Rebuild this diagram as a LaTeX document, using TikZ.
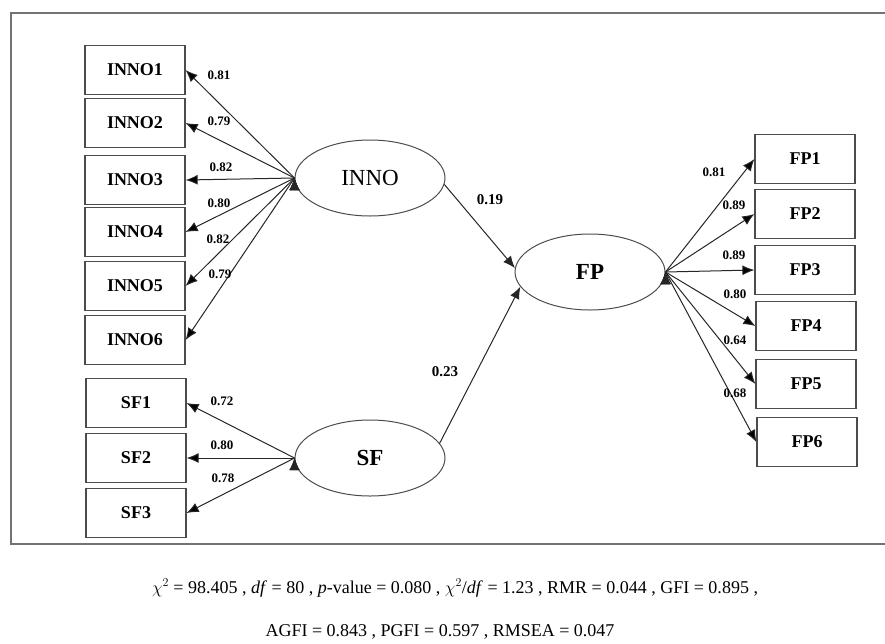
\documentclass[tikz,border=0pt]{standalone}
\usepackage{fontspec}
\setmainfont{Liberation Serif}
\usetikzlibrary{shapes.geometric,arrows.meta}

\begin{document}
\begin{tikzpicture}[x=1pt,y=-1pt,
   ind/.style={draw=black!70,line width=1.2pt,minimum width=100pt,minimum height=49pt,font=\fontsize{18}{18}\selectfont\bfseries},
   lat/.style={ellipse,draw=black!70,line width=1pt,minimum width=150pt,minimum height=76pt,font=\fontsize{23}{23}\selectfont},
   ld/.style={font=\fontsize{13}{13}\selectfont\bfseries},
   arr/.style={-{Latex[length=12pt,width=10pt]},line width=1pt,draw=black!85}]
   \useasboundingbox (0,0) rectangle (885,643);
   \draw[black!55,line width=2pt] (11,13) rectangle (890,544);

   \node[ind] (i1) at (135,70) {INNO1};
   \node[ind] (i2) at (135,123) {INNO2};
   \node[ind] (i3) at (135,180) {INNO3};
   \node[ind] (i4) at (135,232) {INNO4};
   \node[ind] (i5) at (135,286) {INNO5};
   \node[ind] (i6) at (135,340) {INNO6};
   \node[ind] (s1) at (136,403) {SF1};
   \node[ind] (s2) at (136,458) {SF2};
   \node[ind] (s3) at (136,513) {SF3};
   \node[ind] (f1) at (805,159) {FP1};
   \node[ind] (f2) at (805,214) {FP2};
   \node[ind] (f3) at (805,270) {FP3};
   \node[ind] (f4) at (806,326) {FP4};
   \node[ind] (f5) at (806,384) {FP5};
   \node[ind] (f6) at (807,442) {FP6};

   \node[lat] (inno) at (370,178) {INNO};
   \node[lat,font=\fontsize{23}{23}\selectfont\bfseries] (fp) at (590,272) {FP};
   \node[lat,font=\fontsize{23}{23}\selectfont\bfseries] (sf) at (370,458) {SF};

   \path[arr] (inno.west) edge (i1.east);
   \path[arr] (inno.west) edge (i2.east);
   \path[arr] (inno.west) edge (i3.east);
   \path[arr] (inno.west) edge (i4.east);
   \path[arr] (inno.west) edge (i5.east);
   \path[arr] (inno.west) edge (i6.east);
   \path[arr] (sf.west) edge (s1.east);
   \path[arr] (sf.west) edge (s2.east);
   \path[arr] (sf.west) edge (s3.east);
   \path[arr] (fp.east) edge (f1.west);
   \path[arr] (fp.east) edge (f2.west);
   \path[arr] (fp.east) edge (f3.west);
   \path[arr] (fp.east) edge (f4.west);
   \path[arr] (fp.east) edge (f5.west);
   \path[arr] (fp.east) edge (f6.west);
   \draw[arr] (inno.-5) -- (fp.177);
   \draw[arr] (sf.12) -- (fp.192);

   \node[ld] (li1) at (219,75) {0.81};
   \node[ld] (li2) at (219,121) {0.79};
   \node[ld] (li3) at (221,167) {0.82};
   \node[ld] (li4) at (219,203) {0.80};
   \node[ld] (li5) at (218,239) {0.82};
   \node[ld] (li6) at (220,274) {0.79};
   \node[ld] (ls1) at (222,401) {0.72};
   \node[ld] (ls2) at (222,445) {0.80};
   \node[ld] (ls3) at (223,478) {0.78};
   \node[ld] (lf1) at (714,172) {0.81};
   \node[ld] (lf2) at (734,205) {0.89};
   \node[ld] (lf3) at (734,255) {0.89};
   \node[ld] (lf4) at (735,294) {0.80};
   \node[ld] (lf5) at (735,340) {0.64};
   \node[ld] (lf6) at (735,393) {0.68};
   \node[ld,font=\fontsize{15}{15}\selectfont\bfseries] (lif) at (490,200) {0.19};
   \node[ld,font=\fontsize{15}{15}\selectfont\bfseries] (lsf) at (445,372) {0.23};

   \node[font=\fontsize{18}{18}\selectfont] (fit1) at (455,588) {$\chi^2$ = 98.405 , \textit{df} = 80 , \textit{p}-value = 0.080 , $\chi^2$/\textit{df} = 1.23 , RMR = 0.044 , GFI = 0.895 ,};
   \node[font=\fontsize{18}{18}\selectfont] (fit2) at (440,632) {AGFI = 0.843 , PGFI = 0.597 , RMSEA = 0.047};
\end{tikzpicture}
\end{document}
